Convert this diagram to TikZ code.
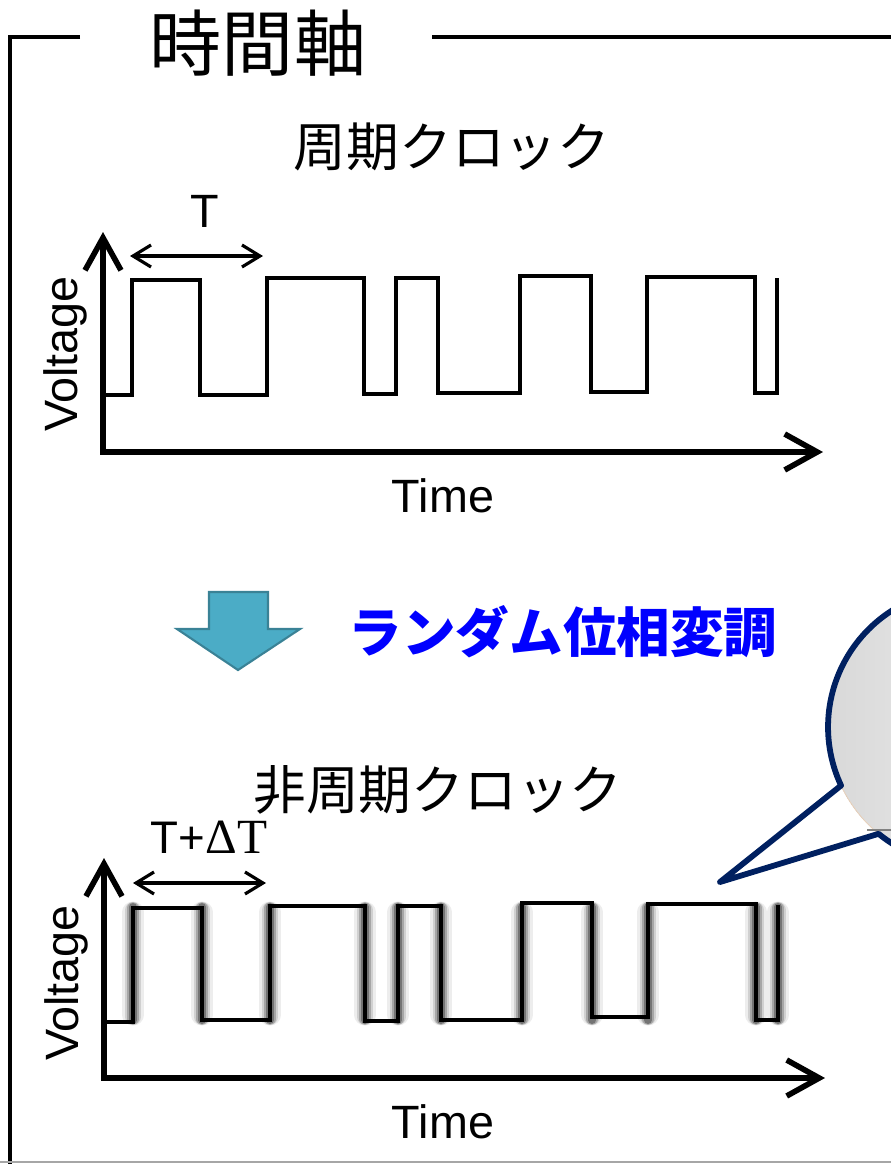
\documentclass[tikz,border=0pt]{standalone}
\usepackage{fontspec}
\usetikzlibrary{arrows.meta}
\newfontfamily\jpfont{Noto Sans CJK JP}
\newfontfamily\arialfont{Liberation Sans}
\newfontfamily\seriffont{Liberation Serif}
\definecolor{arrfill}{HTML}{4BACC6}
\definecolor{arredge}{HTML}{3A8296}
\definecolor{navy}{HTML}{002060}
\definecolor{modblue}{HTML}{0000FF}
\tikzset{
  frm/.style={line width=2.6pt},
  axs/.style={<->, >={Straight Barb[length=6.5mm, width=7.2mm]}, line width=3.2pt},
  per/.style={<->, >={Straight Barb[length=3.6mm, width=4.4mm]}, line width=1.8pt},
  wav/.style={line width=2.5pt},
  halo/.style={draw=black, line cap=round},
  lbl/.style={font=\arialfont\fontsize{26.6}{30}\selectfont, inner sep=0pt},
  ttl/.style={font=\jpfont\fontsize{30}{34}\selectfont, inner sep=0pt}
}
\begin{document}
\begin{tikzpicture}[x=0.02cm, y=-0.02cm]
  \useasboundingbox (0,0) rectangle (891,1164);
  \clip (0,0) rectangle (891,1164);

  % frame and heading
  \node[font=\jpfont\fontsize{41}{46}\selectfont, inner sep=0pt] (head) at (258,43) {時間軸};
  \draw[frm] (80,37) -- (10,37) -- (10,1166);
  \draw[frm] (432,37) -- (893,37);
  \draw[gray!70, line width=1.2pt] (0,1162) -- (891,1162);

  % periodic clock
  \node[ttl] (sub1) at (452,147) {周期クロック};
  \coordinate (o1) at (103,452);
  \coordinate (ytip1) at (103,232);
  \coordinate (xtip1) at (823,452);
  \draw[axs] (ytip1) -- (o1) -- (xtip1);
  \coordinate (pa1) at (130,256);
  \coordinate (pb1) at (263,256);
  \draw[per] (pa1) -- (pb1);
  \node[lbl, anchor=base] (tlab1) at (205,227) {T};
  \node[lbl, anchor=base, rotate=90] (vlab1) at (77,354) {Voltage};
  \node[lbl, anchor=base] (time1) at (443,512) {Time};
  \draw[wav] (105,395) -- (132,395) -- (132,280) -- (200,280) -- (200,395)
    -- (267,395) -- (267,278) -- (364,278) -- (364,394) -- (396,394)
    -- (396,278) -- (438,278) -- (438,393) -- (520,393) -- (520,276)
    -- (591,276) -- (591,392) -- (647,392) -- (647,277) -- (755,277)
    -- (755,393) -- (777,393) -- (777,278);

  % modulation step
  \draw[fill=arrfill, draw=arredge, line width=1.2pt]
    (209,592) -- (268,592) -- (268,629) -- (300,629) -- (238,670)
    -- (177,629) -- (209,629) -- cycle;
  \node[font=\jpfont\bfseries\fontsize{30.5}{34}\selectfont, text=modblue, inner sep=0pt]
    (mod) at (563,632) {ランダム位相変調};

  % speech bubble
  \coordinate (bc) at (966,727);
  \fill[left color=black!15, right color=black!4] (bc) circle[radius=2.76cm];
  \draw[brown!35, line width=0.5pt] (bc) circle[radius=2.76cm];
  \draw[gray, line width=0.6pt] (867,830) -- (891,830);
  \coordinate (tip) at (720,882);
  \draw[navy, line width=3.3pt, line join=round]
    (bc) ++(230.7:2.76cm) arc[start angle=230.7, end angle=565.1, radius=2.76cm]
    -- (tip) -- cycle;

  % aperiodic clock
  \node[ttl] (sub2) at (438,790) {非周期クロック};
  \coordinate (o2) at (104,1078);
  \coordinate (ytip2) at (104,858);
  \coordinate (xtip2) at (825,1078);
  \draw[axs] (ytip2) -- (o2) -- (xtip2);
  \coordinate (pa2) at (133,883);
  \coordinate (pb2) at (266,883);
  \draw[per] (pa2) -- (pb2);
  \node[lbl, anchor=base, font=\fontsize{26}{30}\selectfont] (tlab2) at (209,853)
    {\arialfont T+\seriffont\fontsize{28}{30}\selectfont ΔT};
  \node[lbl, anchor=base, rotate=90] (vlab2) at (78,983) {Voltage};
  \node[lbl, anchor=base] (time2) at (443,1138) {Time};
  \foreach \x in {133,202,270,365,398,441,522,592,648,756,778} {
    \draw[halo, opacity=0.07, line width=12pt] (\x,912) -- (\x,1015);
    \draw[halo, opacity=0.12, line width=9pt] (\x,910) -- (\x,1017);
    \draw[halo, opacity=0.2, line width=6.5pt] (\x,908) -- (\x,1019);
    \draw[halo, opacity=0.3, line width=4.5pt] (\x,907) -- (\x,1020);
  }
  \draw[wav] (107,1022) -- (133,1022) -- (133,908) -- (202,908) -- (202,1020)
    -- (270,1020) -- (270,906) -- (365,906) -- (365,1021) -- (398,1021)
    -- (398,906) -- (441,906) -- (441,1020) -- (522,1020) -- (522,903)
    -- (592,903) -- (592,1017) -- (648,1017) -- (648,904) -- (756,904)
    -- (756,1020) -- (778,1020) -- (778,905);
\end{tikzpicture}
\end{document}
